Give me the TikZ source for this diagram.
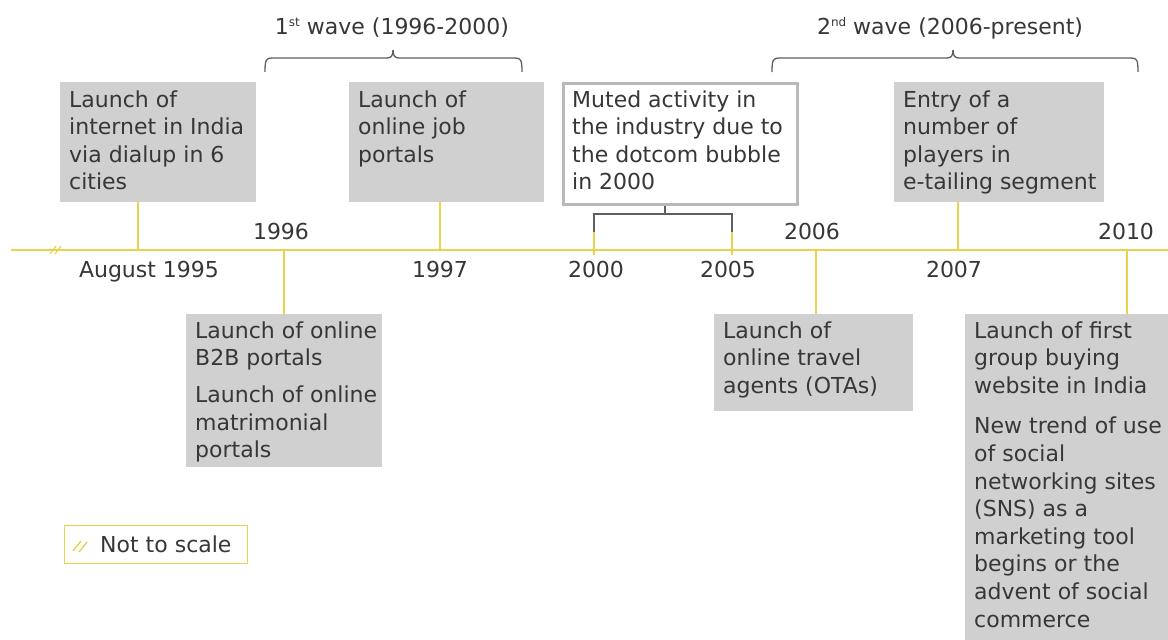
\documentclass[tikz,border=0pt]{standalone}
\usepackage{fontspec}
\setmainfont{DejaVu Sans}
\usetikzlibrary{calc}
\definecolor{tly}{RGB}{232,210,78}
\definecolor{boxg}{RGB}{208,208,209}
\definecolor{txtc}{RGB}{55,55,55}
\definecolor{brcc}{RGB}{95,95,95}
\definecolor{mutedb}{RGB}{185,185,185}
\newcommand{\boxlines}[1]{\begin{minipage}[t]{240pt}\raggedright #1\end{minipage}}
\newcommand{\supx}[1]{\raisebox{8pt}{\fontsize{12}{12}\selectfont #1}}
\begin{document}
\begin{tikzpicture}[x=1pt,y=-1pt]
\tikzset{
 gbox/.style={fill=boxg, draw=none, inner sep=0pt, anchor=north west},
 wbox/.style={fill=white, draw=mutedb, line width=2.5pt, inner sep=0pt, anchor=north west},
 txt/.style={inner sep=0pt, text=txtc, font=\fontsize{22}{27.6}\selectfont},
 btxt/.style={txt, anchor=base west},
 yr/.style={txt, anchor=base},
 tickl/.style={draw=tly, line width=1.5pt},
 tline/.style={draw=tly, line width=1.8pt},
 brc/.style={draw=brcc, line width=1.3pt},
}
\useasboundingbox[fill=white] (0,0) rectangle (1168,640);

% timeline
\coordinate (tlL) at (11,250);
\coordinate (tlR) at (1168,250);
\draw[tline] (tlL) -- (tlR);
\draw[tickl, line width=1.2pt] (50,254) -- (56,246) (55,254) -- (61,246);

% points on the timeline
\coordinate (p95) at (138,250);
\coordinate (p96) at (284,250);
\coordinate (p97) at (440,250);
\coordinate (p00) at (594,250);
\coordinate (p05) at (732,250);
\coordinate (p06) at (816,250);
\coordinate (p07) at (958,250);
\coordinate (p10) at (1127,250);

% wave headers
\node[yr] (w1) at (392,34) {1\supx{st} wave (1996-2000)};
\node[yr] (w2) at (950,34) {2\supx{nd} wave (2006-present)};
\draw[brc] (265,72) .. controls (265,60) and (266,58) .. (272,58) -- (387,58) .. controls (391,58) and (393,56) .. (393,50);
\draw[brc] (393,50) .. controls (393,56) and (395,58) .. (399,58) -- (515,58) .. controls (521,58) and (522,60) .. (522,72);
\draw[brc] (772,72) .. controls (772,60) and (773,58) .. (779,58) -- (947,58) .. controls (951,58) and (953,56) .. (953,50);
\draw[brc] (953,50) .. controls (953,56) and (955,58) .. (959,58) -- (1131,58) .. controls (1137,58) and (1138,60) .. (1138,72);

% upper boxes
\node[gbox, minimum width=196pt, minimum height=120pt] (b1) at (60,82) {};
\node[btxt] (t1) at (69,107) {\boxlines{Launch of\\internet in India\\via dialup in 6\\cities}};
\node[gbox, minimum width=195pt, minimum height=120pt] (b2) at (349,82) {};
\node[btxt] (t2) at (358,107) {\boxlines{Launch of\\online job\\portals}};
\node[wbox, minimum width=234pt, minimum height=121pt] (b3) at (562,82) {};
\node[btxt] (t3) at (572,107) {\boxlines{Muted activity in\\the industry due to\\the dotcom bubble\\in 2000}};
\node[gbox, minimum width=210pt, minimum height=120pt] (b4) at (894,82) {};
\node[btxt] (t4) at (903,107) {\boxlines{Entry of a\\number of\\players in\\e-tailing segment}};

% lower boxes
\node[gbox, minimum width=196pt, minimum height=153pt] (b5) at (186,314) {};
\node[btxt] (t5) at (195,338) {\boxlines{Launch of online\\B2B portals\\[9.5pt]Launch of online\\matrimonial\\portals}};
\node[gbox, minimum width=199pt, minimum height=97pt] (b6) at (714,314) {};
\node[btxt] (t6) at (723,338) {\boxlines{Launch of\\online travel\\agents (OTAs)}};
\node[gbox, minimum width=203pt, minimum height=326pt] (b7) at (965,314) {};
\node[btxt] (t7) at (974,338) {\boxlines{Launch of first\\group buying\\website in India\\[13pt]New trend of use\\of social\\networking sites\\(SNS) as a\\marketing tool\\begins or the\\advent of social\\commerce}};

% ticks
\draw[tickl] (b1.south -| p95) -- (p95);
\draw[tickl] (p96) -- (b5.north -| p96);
\draw[tickl] (b2.south -| p97) -- (p97);
\draw[tickl] (p06) -- (b6.north -| p06);
\draw[tickl] (b4.south -| p07) -- (p07);
\draw[tickl] (p10) -- (b7.north -| p10);

% 2000-2005 bracket
\coordinate (bk) at (665,214);
\draw[brc] (b3.south -| bk) -- (bk);
\draw[brc] ($(p00)+(0,-18)$) |- (bk) -| ($(p05)+(0,-18)$);
\draw[tickl] ($(p00)+(0,-18)$) -- ($(p00)+(0,5)$);
\draw[tickl] ($(p05)+(0,-18)$) -- ($(p05)+(0,5)$);

% year labels
\node[yr] (y95) at (149,277) {August 1995};
\node[yr] (y96) at (281,239) {1996};
\node[yr] (y97) at (440,277) {1997};
\node[yr] (y00) at (596,277) {2000};
\node[yr] (y05) at (728,277) {2005};
\node[yr] (y06) at (812,239) {2006};
\node[yr] (y07) at (954,277) {2007};
\node[yr] (y10) at (1126,239) {2010};

% legend
\node[draw=tly, line width=1.2pt, fill=white, minimum width=183pt, minimum height=38pt, inner sep=0pt, anchor=north west] (nts) at (64,525) {};
\draw[tickl, line width=1.4pt] (73,551) -- (81,541) (79,552) -- (87,542);
\node[txt, anchor=base west] (ntst) at (100,552) {Not to scale};
\end{tikzpicture}
\end{document}
